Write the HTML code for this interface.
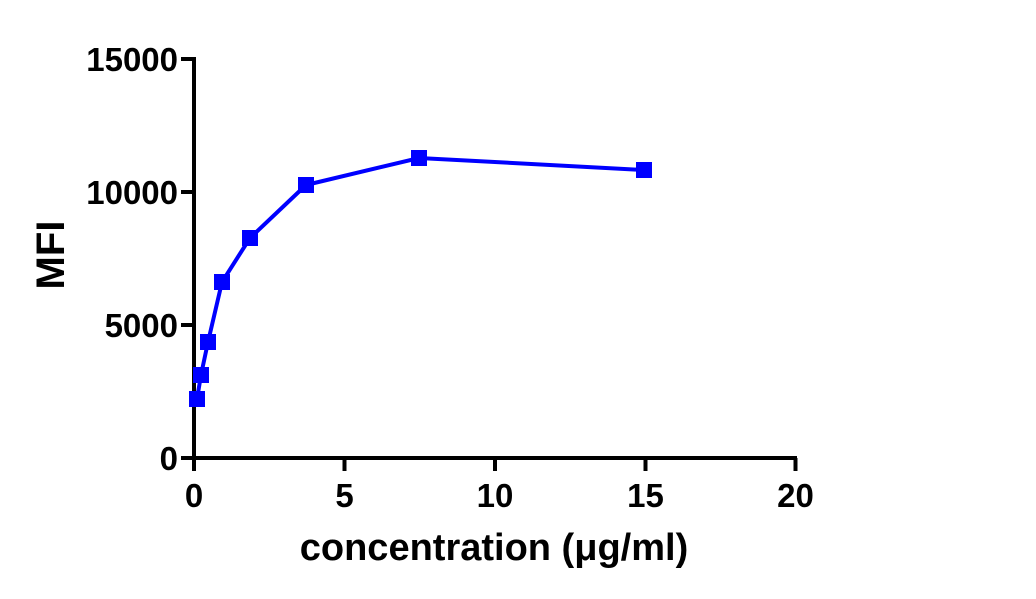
<!DOCTYPE html>
<html><head><style>body{margin:0;background:#fff}</style></head><body>
<svg width="1036" height="594" viewBox="0 0 1036 594" xmlns="http://www.w3.org/2000/svg" font-family="Liberation Sans, Arial, sans-serif" font-weight="bold">
<g stroke="#000" stroke-width="4" fill="none">
<path d="M194 57 V458 H797"/>
<path d="M181 59 H194 M181 192 H194 M181 325 H194 M181 458 H194"/>
<path d="M194 458 V471 M344.5 458 V471 M495 458 V471 M645.5 458 V471 M795.5 458 V471"/>
</g>
<g font-size="33" text-anchor="end" fill="#000">
<text x="178" y="71">15000</text>
<text x="178" y="204">10000</text>
<text x="178" y="337">5000</text>
<text x="178" y="470">0</text>
</g>
<g font-size="33" text-anchor="middle" fill="#000">
<text x="194" y="507">0</text>
<text x="344.5" y="507">5</text>
<text x="495" y="507">10</text>
<text x="645.5" y="507">15</text>
<text x="795.5" y="507">20</text>
</g>
<text x="494" y="560" font-size="38" text-anchor="middle">concentration (μg/ml)</text>
<text transform="translate(64,255) rotate(-90)" font-size="40" text-anchor="middle">MFI</text>
<polyline fill="none" stroke="#0000ff" stroke-width="4" points="197,399 201,375 208,342 222,282 250,238 306,185 419,158 644,170"/>
<g fill="#0000ff">
<rect x="189" y="391" width="16" height="16"/>
<rect x="193" y="367" width="16" height="16"/>
<rect x="200" y="334" width="16" height="16"/>
<rect x="214" y="274" width="16" height="16"/>
<rect x="242" y="230" width="16" height="16"/>
<rect x="298" y="177" width="16" height="16"/>
<rect x="411" y="150" width="16" height="16"/>
<rect x="636" y="162" width="16" height="16"/>
</g>
</svg>
</body></html>
